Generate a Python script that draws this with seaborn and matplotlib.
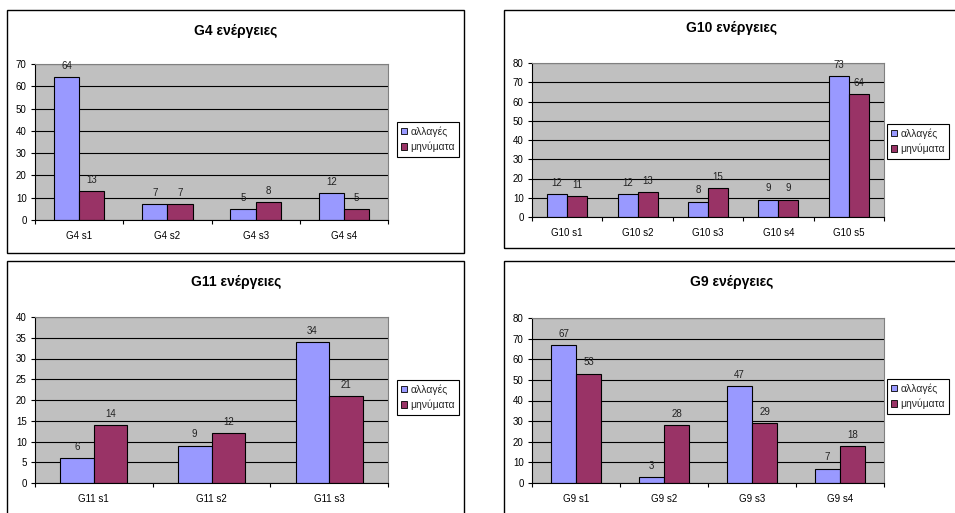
import pandas as pd
import matplotlib.pyplot as plt
import matplotlib.patches as mpatches
import seaborn as sns
import numpy as np

series_names = ['αλλαγές', 'μηνύματα']

g4_cats = ['G4 s1', 'G4 s2', 'G4 s3', 'G4 s4']
g4_changes = [64, 7, 5, 12]
g4_messages = [13, 7, 8, 5]

g10_cats = ['G10 s1', 'G10 s2', 'G10 s3', 'G10 s4', 'G10 s5']
g10_changes = [12, 12, 8, 9, 73]
g10_messages = [11, 13, 15, 9, 64]

g11_cats = ['G11 s1', 'G11 s2', 'G11 s3']
g11_changes = [6, 9, 34]
g11_messages = [14, 12, 21]

g9_cats = ['G9 s1', 'G9 s2', 'G9 s3', 'G9 s4']
g9_changes = [67, 3, 47, 7]
g9_messages = [53, 28, 29, 18]

W, H = 955, 513
colors = ['#9999FF', '#993366']

sns.set_theme(style='white')
plt.rcParams['font.family'] = ['Liberation Sans', 'DejaVu Sans']

fig = plt.figure(figsize=(W / 100, H / 100), dpi=100)
fig.patch.set_facecolor('white')


def px_rect(left, top, right, bottom):
    return [left / W, 1 - bottom / H, (right - left) / W, (bottom - top) / H]


def draw_chart(title, cats, changes, messages, ymax, ystep, box, plot, legend_xy, title_xy):
    # outer chart border
    bx = px_rect(*box)
    fig.add_artist(mpatches.Rectangle((bx[0], bx[1]), bx[2], bx[3], transform=fig.transFigure,
                                      fill=False, edgecolor='black', linewidth=1.0))
    fig.text(title_xy[0] / W, 1 - title_xy[1] / H, title, ha='center', va='center',
             fontsize=10, fontweight='bold', color='black')

    ax = fig.add_axes(px_rect(*plot))
    df = pd.DataFrame({
        'cat': cats * 2,
        'value': changes + messages,
        'series': [series_names[0]] * len(cats) + [series_names[1]] * len(cats),
    })
    sns.barplot(data=df, x='cat', y='value', hue='series', palette=colors, saturation=1,
                width=0.57, edgecolor='black', linewidth=0.8, legend=False, ax=ax)
    for container in ax.containers:
        ax.bar_label(container, fmt='%d', padding=4.5, fontsize=7, color='#222222')

    n = len(cats)
    ax.set_facecolor('#C0C0C0')
    ax.set_xlim(-0.5, n - 0.5)
    ax.set_ylim(0, ymax)
    ax.set_yticks(np.arange(0, ymax + 1, ystep))
    ax.yaxis.grid(True, color='black', linewidth=0.8)
    ax.xaxis.grid(False)
    ax.set_axisbelow(True)
    ax.set_xlabel('')
    ax.set_ylabel('')
    ax.set_xticks(range(n))
    ax.set_xticklabels(cats)
    ax.set_xticks(np.arange(-0.5, n), minor=True)
    ax.tick_params(axis='x', which='major', length=0, pad=8, labelsize=7, colors='black')
    ax.tick_params(axis='x', which='minor', length=3, width=0.8, direction='out', color='black', bottom=True)
    ax.tick_params(axis='y', length=3, width=0.8, direction='out', pad=3, labelsize=7,
                   colors='black', left=True)
    for side in ['left', 'bottom']:
        ax.spines[side].set_color('black')
        ax.spines[side].set_linewidth(0.8)
    for side in ['top', 'right']:
        ax.spines[side].set_color('#808080')
        ax.spines[side].set_linewidth(0.8)

    handles = [mpatches.Patch(facecolor=c, edgecolor='black', linewidth=0.6) for c in colors]
    leg = ax.legend(handles, series_names, loc='upper left',
                    bbox_to_anchor=(legend_xy[0] / W, 1 - legend_xy[1] / H),
                    bbox_transform=fig.transFigure, borderaxespad=0, fontsize=7.5,
                    frameon=True, fancybox=False, edgecolor='black', framealpha=1,
                    handlelength=0.6, handleheight=0.6, handletextpad=0.3,
                    borderpad=0.4, labelspacing=0.5)
    leg.get_frame().set_linewidth(0.8)


draw_chart('G4 ενέργειες', g4_cats, g4_changes, g4_messages, 70, 10,
           box=(7, 10, 464, 253), plot=(35, 64, 388, 220), legend_xy=(397, 122), title_xy=(236, 31))
draw_chart('G10 ενέργειες', g10_cats, g10_changes, g10_messages, 80, 10,
           box=(504, 10, 965, 248), plot=(532, 63, 884, 217), legend_xy=(887, 124), title_xy=(732, 28))
draw_chart('G11 ενέργειες', g11_cats, g11_changes, g11_messages, 40, 5,
           box=(7, 261, 464, 520), plot=(35, 317, 388, 483), legend_xy=(397, 380), title_xy=(236, 282))
draw_chart('G9 ενέργειες', g9_cats, g9_changes, g9_messages, 80, 10,
           box=(504, 261, 965, 520), plot=(532, 318, 884, 483), legend_xy=(887, 379), title_xy=(732, 282))

fig.savefig('out.png', dpi=100, facecolor='white')
